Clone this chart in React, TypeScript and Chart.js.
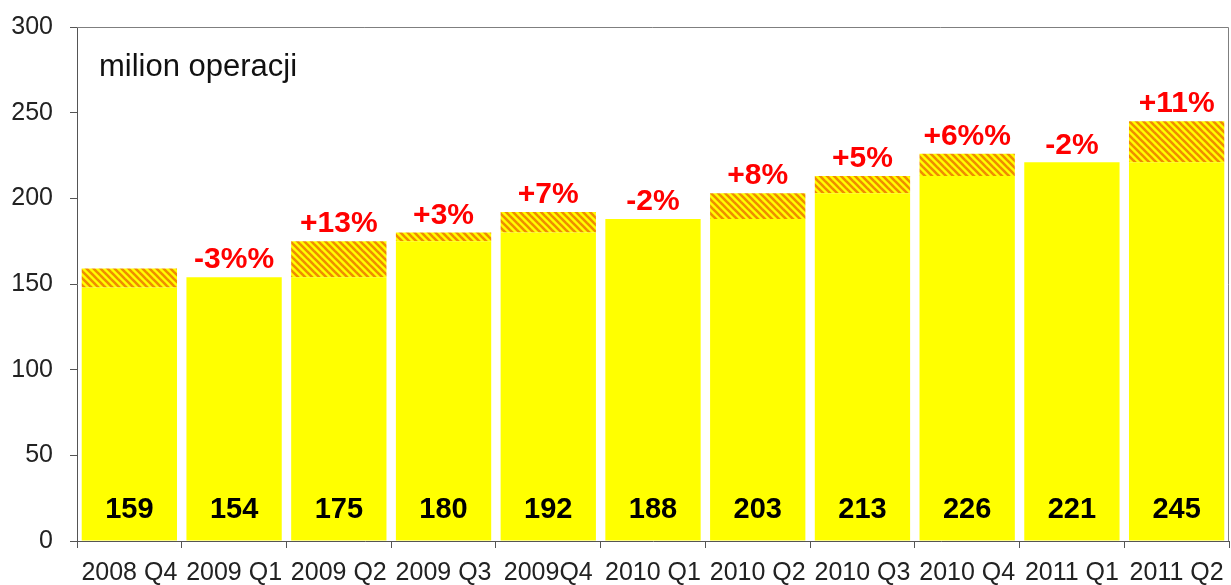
import React, { useEffect, useRef } from "react";
import { Chart, registerables } from "chart.js";

Chart.register(...registerables);

const categories = ["2008 Q4", "2009 Q1", "2009 Q2", "2009 Q3", "2009Q4", "2010 Q1", "2010 Q2", "2010 Q3", "2010 Q4", "2011 Q1", "2011 Q2"];
const totals = [159, 154, 175, 180, 192, 188, 203, 213, 226, 221, 245];
const baseValues = [148, 154, 154, 175, 180, 188, 188, 203, 213, 221, 221];
const changeLabels = ["", "-3%%", "+13%", "+3%", "+7%", "-2%", "+8%", "+5%", "+6%%", "-2%", "+11%"];
const yTicks = [0, 50, 100, 150, 200, 250, 300];

const FONT = "'Liberation Sans', Arial, sans-serif";

function makePattern(): CanvasPattern | string {
  const c = document.createElement("canvas");
  c.width = 7;
  c.height = 7;
  const ctx = c.getContext("2d");
  if (!ctx) return "#F59A00";
  ctx.fillStyle = "#FFFF00";
  ctx.fillRect(0, 0, 7, 7);
  ctx.strokeStyle = "#F08C00";
  ctx.lineWidth = 2.6;
  for (const k of [-7, 0, 7]) {
    ctx.beginPath();
    ctx.moveTo(k - 1, -1);
    ctx.lineTo(k + 8, 8);
    ctx.stroke();
  }
  const p = ctx.createPattern(c, "repeat");
  return p || "#F59A00";
}

export default function App() {
  const ref = useRef<HTMLCanvasElement>(null);
  useEffect(() => {
    document.body.style.margin = "0";
    if (!ref.current) return;
    const increments = totals.map((t, i) => Math.max(0, t - baseValues[i]));
    const labelPlugin = {
      id: "labels",
      afterDatasetsDraw(chart: any) {
        const ctx = chart.ctx;
        const x = chart.scales.x;
        const y = chart.scales.y;
        const area = chart.chartArea;
        ctx.save();
        ctx.strokeStyle = "#7f7f7f";
        ctx.lineWidth = 1;
        ctx.beginPath();
        ctx.moveTo(area.left, area.top + 0.5);
        ctx.lineTo(area.right - 0.5, area.top + 0.5);
        ctx.lineTo(area.right - 0.5, area.bottom);
        ctx.stroke();
        ctx.fillStyle = "#111";
        ctx.font = `31px ${FONT}`;
        ctx.textAlign = "left";
        ctx.textBaseline = "middle";
        ctx.fillText("milion operacji", 99, 67);
        totals.forEach((v, i) => {
          const cx = x.getPixelForValue(i);
          ctx.font = `bold 29px ${FONT}`;
          ctx.textAlign = "center";
          ctx.textBaseline = "middle";
          ctx.fillStyle = "#000";
          ctx.fillText(String(v), cx, 510);
          if (changeLabels[i]) {
            ctx.font = `bold 30px ${FONT}`;
            ctx.fillStyle = "#FF0000";
            ctx.textBaseline = "bottom";
            ctx.fillText(changeLabels[i], cx, y.getPixelForValue(v) - 2);
          }
        });
        ctx.restore();
      },
    };
    const chart = new Chart(ref.current, {
      type: "bar",
      data: {
        labels: categories,
        datasets: [
          { data: baseValues.map((b, i) => Math.min(b, totals[i])), backgroundColor: "#FFFF00", borderWidth: 0, barPercentage: 0.91, categoryPercentage: 1 },
          { data: increments, backgroundColor: makePattern() as any, borderWidth: 0, barPercentage: 0.91, categoryPercentage: 1 },
        ],
      },
      options: {
        animation: false,
        responsive: false,
        layout: { padding: { top: 27, right: 2, left: 0, bottom: 0 } },
        plugins: { legend: { display: false }, tooltip: { enabled: false } },
        scales: {
          x: {
            stacked: true,
            offset: true,
            grid: { offset: true, drawOnChartArea: false, drawTicks: true, tickLength: 7, color: "#555" },
            border: { color: "#555" },
            ticks: { autoSkip: false, maxRotation: 0, color: "#222", font: { size: 25, family: FONT }, padding: 10 },
            afterFit(s: any) { s.height = 44; s.paddingLeft = 0; s.paddingRight = 0; },
          },
          y: {
            stacked: true,
            min: 0,
            max: 300,
            afterBuildTicks(s: any) { s.ticks = yTicks.map((v) => ({ value: v })); },
            grid: { drawOnChartArea: false, drawTicks: true, tickLength: 7, color: "#555" },
            border: { color: "#555" },
            ticks: { color: "#222", font: { size: 25, family: FONT }, padding: 17 },
            afterFit(s: any) { s.width = 77; s.paddingTop = 0; s.paddingBottom = 0; },
          },
        },
      },
      plugins: [labelPlugin],
    });
    return () => chart.destroy();
  }, []);
  return (
    <div style={{ position: "absolute", left: 0, top: 0, width: 1231, height: 585 }}>
      <canvas ref={ref} width={1231} height={585} />
    </div>
  );
}
